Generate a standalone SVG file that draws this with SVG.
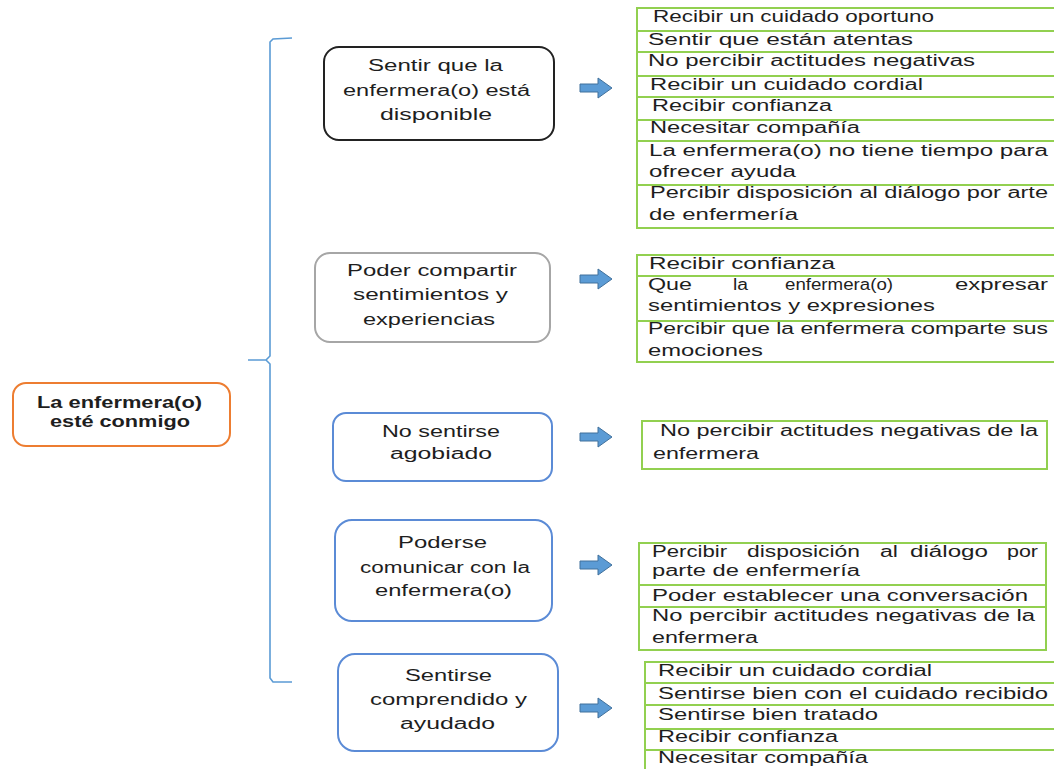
<svg xmlns="http://www.w3.org/2000/svg" xmlns:xlink="http://www.w3.org/1999/xlink" width="1054" height="769" viewBox="0 0 1054 769">
<style>
  text { font-family: "Liberation Sans", Arial, sans-serif; font-size: 16px; fill: #1e1e1e; }
  .b { font-weight: bold; }
  .tbl { fill: #ffffff; stroke: #92D050; stroke-width: 2; }
  .row { stroke: #92D050; stroke-width: 2; fill: none; }
  .node { fill: #ffffff; stroke-width: 2; }
  .arrow { fill: #5B9BD5; stroke: #41719C; stroke-width: 1; }
  .brace { fill: none; stroke: #5B9BD5; stroke-width: 1.6; }
</style>
<defs>
  <path id="arr" d="M0,-4 L18,-4 L18,-10 L32,0 L18,10 L18,4 L0,4 Z"/>
</defs>
<rect width="1054" height="769" fill="#ffffff"/>

<g id="connectors">
  <path class="brace" d="M292,38 L273,39 L270,42 L270,356 L266,360 L248,360 M266,360 L270,364 L270,678 L273,682 L292,682"/>
  <use xlink:href="#arr" href="#arr" class="arrow" transform="translate(580,88)"/>
  <use xlink:href="#arr" href="#arr" class="arrow" transform="translate(580,279)"/>
  <use xlink:href="#arr" href="#arr" class="arrow" transform="translate(580,437)"/>
  <use xlink:href="#arr" href="#arr" class="arrow" transform="translate(580,565)"/>
  <use xlink:href="#arr" href="#arr" class="arrow" transform="translate(580,708)"/>
</g>

<g id="root">
  <rect x="13" y="383" width="217" height="63" rx="13" class="node" stroke="#ED7D31"/>
  <text class="b" x="37" y="408" textLength="165" lengthAdjust="spacingAndGlyphs">La enfermera(o)</text>
  <text class="b" x="50" y="427" textLength="140" lengthAdjust="spacingAndGlyphs">esté conmigo</text>
</g>

<g id="n1">
  <rect x="324" y="47" width="230" height="93" rx="15" class="node" stroke="#222222"/>
  <text x="368" y="71" textLength="135" lengthAdjust="spacingAndGlyphs">Sentir que la</text>
  <text x="343" y="96" textLength="187" lengthAdjust="spacingAndGlyphs">enfermera(o) está</text>
  <text x="380" y="120" textLength="112" lengthAdjust="spacingAndGlyphs">disponible</text>
</g>

<g id="n2">
  <rect x="315" y="253" width="235" height="89" rx="15" class="node" stroke="#A6A6A6"/>
  <text x="347" y="276" textLength="170" lengthAdjust="spacingAndGlyphs">Poder compartir</text>
  <text x="353" y="300" textLength="155" lengthAdjust="spacingAndGlyphs">sentimientos y</text>
  <text x="363" y="325" textLength="132" lengthAdjust="spacingAndGlyphs">experiencias</text>
</g>

<g id="n3">
  <rect x="333" y="413" width="219" height="68" rx="13" class="node" stroke="#5B8BD6"/>
  <text x="382" y="437" textLength="118" lengthAdjust="spacingAndGlyphs">No sentirse</text>
  <text x="390" y="459" textLength="102" lengthAdjust="spacingAndGlyphs">agobiado</text>
</g>

<g id="n4">
  <rect x="335" y="520" width="217" height="101" rx="17" class="node" stroke="#5B8BD6"/>
  <text x="398" y="548" textLength="89" lengthAdjust="spacingAndGlyphs">Poderse</text>
  <text x="360" y="573" textLength="170" lengthAdjust="spacingAndGlyphs">comunicar con la</text>
  <text x="375" y="596" textLength="137" lengthAdjust="spacingAndGlyphs">enfermera(o)</text>
</g>

<g id="n5">
  <rect x="338" y="654" width="220" height="97" rx="17" class="node" stroke="#5B8BD6"/>
  <text x="405" y="681" textLength="87" lengthAdjust="spacingAndGlyphs">Sentirse</text>
  <text x="370" y="705" textLength="157" lengthAdjust="spacingAndGlyphs">comprendido y</text>
  <text x="400" y="729" textLength="95" lengthAdjust="spacingAndGlyphs">ayudado</text>
</g>

<g id="t1">
  <rect x="637" y="8" width="425" height="220" class="tbl"/>
  <path class="row" d="M637,31 H1062 M637,52 H1062 M637,76 H1062 M637,97 H1062 M637,120 H1062 M637,141 H1062 M637,185 H1062"/>
  <text x="653" y="22" textLength="281" lengthAdjust="spacingAndGlyphs">Recibir un cuidado oportuno</text>
  <text x="648" y="45" textLength="265" lengthAdjust="spacingAndGlyphs">Sentir que están atentas</text>
  <text x="648" y="66" textLength="327" lengthAdjust="spacingAndGlyphs">No percibir actitudes negativas</text>
  <text x="650" y="90" textLength="273" lengthAdjust="spacingAndGlyphs">Recibir un cuidado cordial</text>
  <text x="652" y="111" textLength="180" lengthAdjust="spacingAndGlyphs">Recibir confianza</text>
  <text x="650" y="133" textLength="210" lengthAdjust="spacingAndGlyphs">Necesitar compañía</text>
  <text x="649" y="156" textLength="399" lengthAdjust="spacingAndGlyphs">La enfermera(o) no tiene tiempo para</text>
  <text x="649" y="177" textLength="147" lengthAdjust="spacingAndGlyphs">ofrecer ayuda</text>
  <text x="650" y="198" textLength="398" lengthAdjust="spacingAndGlyphs">Percibir disposición al diálogo por arte</text>
  <text x="649" y="220" textLength="149" lengthAdjust="spacingAndGlyphs">de enfermería</text>
</g>

<g id="t2">
  <rect x="637" y="255" width="425" height="107" class="tbl"/>
  <path class="row" d="M637,276 H1062 M637,321 H1062"/>
  <text x="649" y="269" textLength="186" lengthAdjust="spacingAndGlyphs">Recibir  confianza</text>
  <text x="648" y="290" textLength="44" lengthAdjust="spacingAndGlyphs">Que</text>
  <text x="733" y="290" textLength="15" lengthAdjust="spacingAndGlyphs">la</text>
  <text x="785" y="290" textLength="108" lengthAdjust="spacingAndGlyphs">enfermera(o)</text>
  <text x="955" y="290" textLength="93" lengthAdjust="spacingAndGlyphs">expresar</text>
  <text x="648" y="311" textLength="287" lengthAdjust="spacingAndGlyphs">sentimientos y expresiones</text>
  <text x="648" y="334" textLength="400" lengthAdjust="spacingAndGlyphs">Percibir que la enfermera comparte sus</text>
  <text x="648" y="356" textLength="115" lengthAdjust="spacingAndGlyphs">emociones</text>
</g>

<g id="t3">
  <rect x="642" y="421" width="405" height="48" class="tbl"/>
  <text x="660" y="436" textLength="378" lengthAdjust="spacingAndGlyphs">No percibir actitudes negativas de la</text>
  <text x="653" y="459" textLength="106" lengthAdjust="spacingAndGlyphs">enfermera</text>
</g>

<g id="t4">
  <rect x="639" y="543" width="407" height="107" class="tbl" stroke-width="2.5"/>
  <path class="row" d="M639,585 H1046 M639,607 H1046"/>
  <text x="652" y="557" textLength="75" lengthAdjust="spacingAndGlyphs">Percibir</text>
  <text x="747" y="557" textLength="113" lengthAdjust="spacingAndGlyphs">disposición</text>
  <text x="880" y="557" textLength="18" lengthAdjust="spacingAndGlyphs">al</text>
  <text x="910" y="557" textLength="78" lengthAdjust="spacingAndGlyphs">diálogo</text>
  <text x="1007" y="557" textLength="31" lengthAdjust="spacingAndGlyphs">por</text>
  <text x="652" y="576" textLength="208" lengthAdjust="spacingAndGlyphs">parte de enfermería</text>
  <text x="652" y="601" textLength="376" lengthAdjust="spacingAndGlyphs">Poder establecer una conversación</text>
  <text x="652" y="621" textLength="383" lengthAdjust="spacingAndGlyphs">No percibir actitudes negativas de la</text>
  <text x="652" y="643" textLength="106" lengthAdjust="spacingAndGlyphs">enfermera</text>
</g>

<g id="t5">
  <rect x="645" y="662" width="420" height="120" class="tbl"/>
  <path class="row" d="M645,683 H1065 M645,705 H1065 M645,729 H1065 M645,750 H1065"/>
  <text x="658" y="676" textLength="274" lengthAdjust="spacingAndGlyphs">Recibir un cuidado cordial</text>
  <text x="658" y="699" textLength="390" lengthAdjust="spacingAndGlyphs">Sentirse bien con el cuidado recibido</text>
  <text x="658" y="720" textLength="220" lengthAdjust="spacingAndGlyphs">Sentirse bien tratado</text>
  <text x="658" y="742" textLength="180" lengthAdjust="spacingAndGlyphs">Recibir confianza</text>
  <text x="658" y="763" textLength="210" lengthAdjust="spacingAndGlyphs">Necesitar compañía</text>
</g>
</svg>
